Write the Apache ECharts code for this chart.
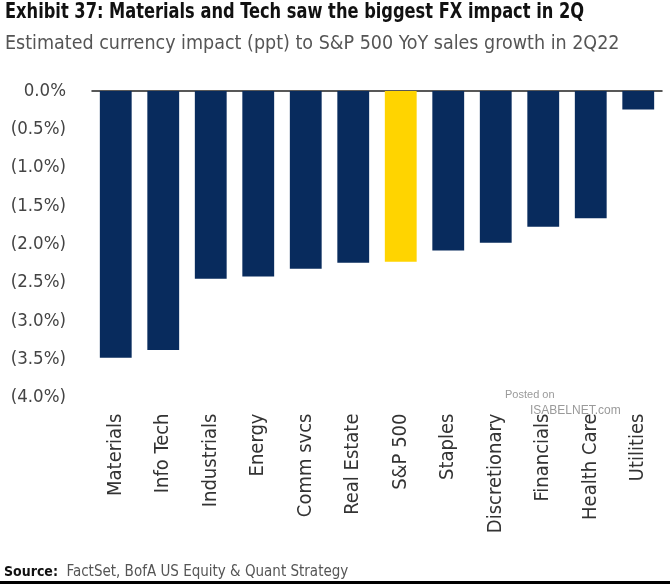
<!DOCTYPE html>
<html><head><meta charset="utf-8">
<script src="https://cdn.jsdelivr.net/npm/echarts@6/dist/echarts.min.js"></script>
<style>html,body{margin:0;padding:0;background:#fff}#c{width:670px;height:584px}</style>
</head><body><div id="c"></div>
<script>
var categories = ['Materials','Info Tech','Industrials','Energy','Comm svcs','Real Estate','S&P 500','Staples','Discretionary','Financials','Health Care','Utilities'];
var values = [-3.48,-3.38,-2.45,-2.42,-2.32,-2.24,-2.23,-2.08,-1.98,-1.77,-1.66,-0.24];
var highlight = 'S&P 500';
var titleText = 'Exhibit 37: Materials and Tech saw the biggest FX impact in 2Q';
var subtitleText = 'Estimated currency impact (ppt) to S&P 500 YoY sales growth in 2Q22';
var NAVY = '#082b5d', YELLOW = '#ffd400';
var FONT = '"DejaVu Sans Condensed","DejaVu Sans",sans-serif';

var chart = echarts.init(document.getElementById('c'), null, {renderer:'canvas'});
chart.setOption({
  animation:false,
  backgroundColor:'#fff',
  grid:{left:92, right:8, top:91, bottom:186.5, containLabel:false},
  xAxis:[
    {type:'category', data:categories, position:'bottom',
     axisLine:{show:false, onZero:false}, axisTick:{show:false},
     axisLabel:{rotate:90, interval:0, margin:16, fontFamily:FONT, fontSize:20, color:'#333'}},
    {type:'category', data:categories, position:'top',
     axisLine:{show:true, onZero:false, lineStyle:{color:'#222', width:1.5}}, axisTick:{show:false}, axisLabel:{show:false}}
  ],
  yAxis:{type:'value', min:-4, max:0, interval:0.5,
    axisLine:{show:false}, axisTick:{show:false}, splitLine:{show:false},
    axisLabel:{margin:26, fontFamily:FONT, fontSize:18.5, color:'#444',
      formatter:function(v){ return v===0 ? '0.0%' : '(' + Math.abs(v).toFixed(1) + '%)'; }}},
  series:[{type:'bar', xAxisIndex:0, barWidth:'67%',
    data:values.map(function(v,i){ return {value:v, itemStyle:{color: categories[i]===highlight ? YELLOW : NAVY}}; })}],
  graphic:[
    {type:'text', x:5, y:2, scaleX:0.86, style:{text:titleText, fontFamily:FONT, fontWeight:'bold', fontSize:21, fill:'#111'}},
    {type:'text', x:5, y:34, style:{text:subtitleText, fontFamily:FONT, fontSize:19.5, fill:'#555'}},
    {type:'text', left:505, top:389, style:{text:'Posted on', font:'11px "Liberation Sans", Arial, sans-serif', fill:'#9a9a9a'}},
    {type:'text', left:530, top:405, style:{text:'ISABELNET.com', font:'12px "Liberation Sans", Arial, sans-serif', fill:'#9a9a9a'}},
    {type:'text', x:4, y:565, style:{rich:{b:{fontFamily:FONT, fontWeight:'bold', fontSize:14, fill:'#111'}, r:{fontFamily:FONT, fontSize:15, fill:'#555'}}, text:'{b|Source:}{r|  FactSet, BofA US Equity & Quant Strategy}'}},
    {type:'rect', left:0, top:581, shape:{width:670, height:3}, style:{fill:'#000'}}
  ]
});
</script></body></html>
